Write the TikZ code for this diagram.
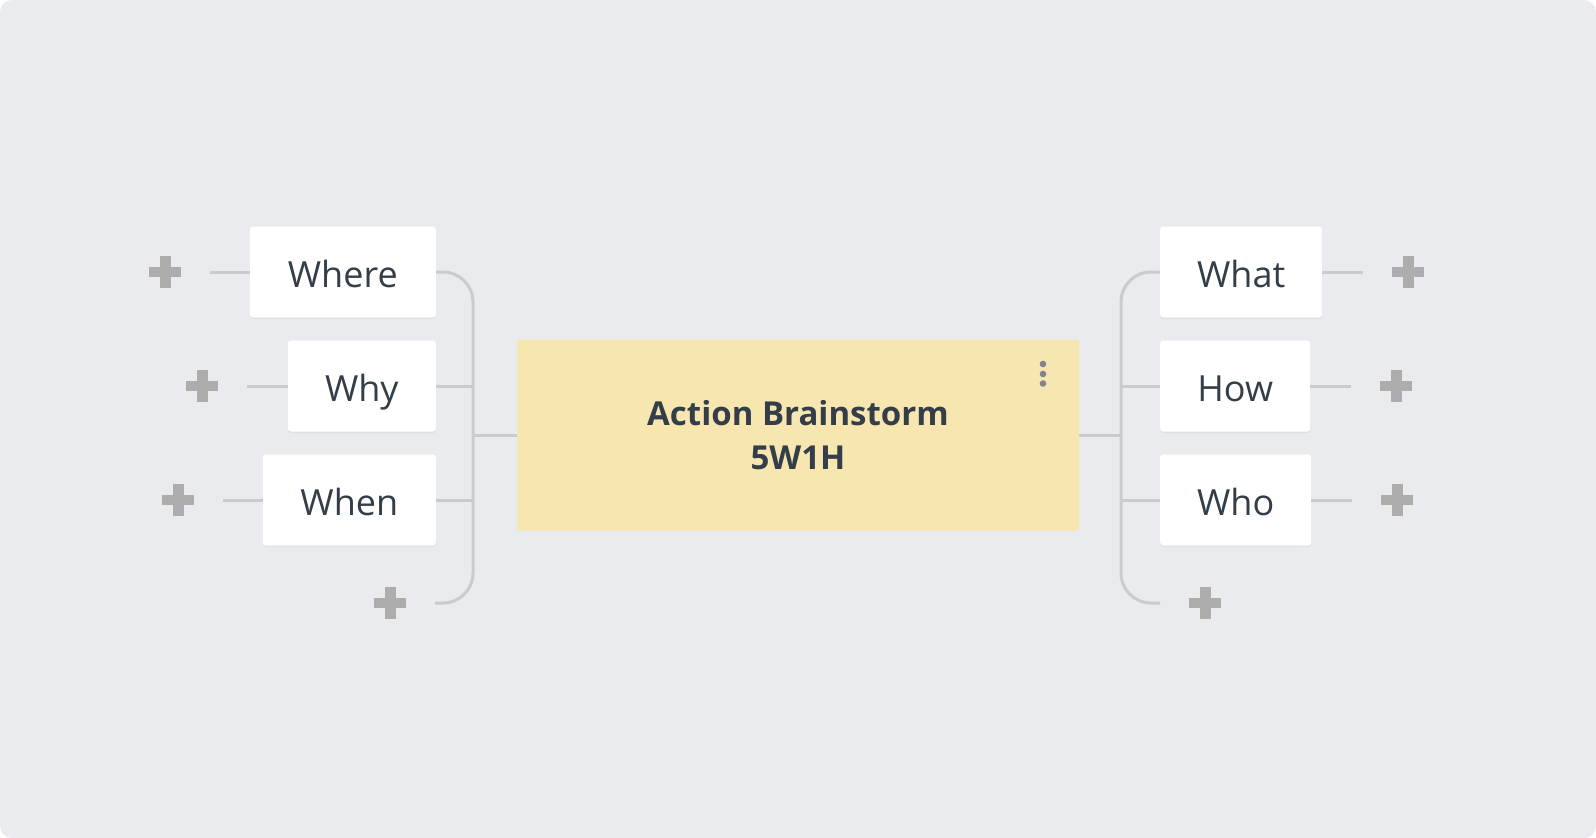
\documentclass[tikz,border=0pt]{standalone}
\usepackage{fontspec}
\setmainfont{Open Sans}
\usetikzlibrary{shadows}
\definecolor{bg}{HTML}{E9EBEE}
\definecolor{txt}{HTML}{333E48}
\definecolor{cfill}{HTML}{F8E6B1}
\definecolor{conn}{HTML}{C9CBCE}
\definecolor{plusc}{HTML}{ADADAD}
\definecolor{dotc}{HTML}{7F868D}
\begin{document}
\begin{tikzpicture}[x=1pt,y=-1pt,
  leaf/.style={fill=white, rounded corners=3pt, minimum height=91pt, inner sep=0pt,
    text=txt, font=\fontsize{36}{40}\selectfont, text height=30pt, text depth=0pt,
    drop shadow={shadow xshift=0pt,shadow yshift=-1.5pt,opacity=0.10}},
  lleaf/.style={leaf, anchor=east},
  rleaf/.style={leaf, anchor=west},
  connline/.style={draw=conn, line width=3pt},
  plusnode/.style={minimum width=32pt, minimum height=32pt, inner sep=0pt, outer xsep=29pt,
    path picture={
      \fill[plusc] ([xshift=-16pt,yshift=-5pt]path picture bounding box.center) rectangle ([xshift=16pt,yshift=5pt]path picture bounding box.center);
      \fill[plusc] ([xshift=-5.5pt,yshift=-16pt]path picture bounding box.center) rectangle ([xshift=5.5pt,yshift=16pt]path picture bounding box.center);}},
  rootbox/.style={fill=cfill, rounded corners=2pt, minimum width=562pt, minimum height=191pt,
    inner sep=0pt, align=center, text=txt, font=\bfseries\fontsize{33}{44}\selectfont}
]
\useasboundingbox (0,0) rectangle (1596,838);
\fill[white] (0,0) rectangle (1596,838);
\fill[bg, rounded corners=12pt] (0,0) rectangle (1596,838);

% central node
\node[rootbox] (root) at (798,435) {\raisebox{-2pt}{Action Brainstorm}\\\raisebox{-2pt}{5W1H}};
\fill[dotc] (1043,364) circle (3.3pt);
\fill[dotc] (1043,374) circle (3.3pt);
\fill[dotc] (1043,383.5) circle (3.3pt);

% left leaves
\node[lleaf, minimum width=186pt] (where) at (436,272) {Where};
\node[lleaf, minimum width=148pt] (why) at (436,386) {Why};
\node[lleaf, minimum width=173pt] (when) at (436,500) {When};
% right leaves
\node[rleaf, minimum width=162pt] (what) at (1160,272) {What};
\node[rleaf, minimum width=150pt] (how) at (1160,386) {How};
\node[rleaf, minimum width=151pt] (who) at (1160,500) {Who};

% plus buttons
\node[plusnode] (pwhere) at (165,272) {};
\node[plusnode] (pwhy) at (202,386) {};
\node[plusnode] (pwhen) at (178,500) {};
\node[plusnode] (pleft) at (390,603) {};
\node[plusnode] (pwhat) at (1408,272) {};
\node[plusnode] (phow) at (1396,386) {};
\node[plusnode] (pwho) at (1397,500) {};
\node[plusnode] (pright) at (1205,603) {};

% junctions
\coordinate (lj) at (473,435);
\coordinate (rj) at (1121,435);

% brackets
\draw[connline, rounded corners=30pt] (where.east) -| (lj) |- (pleft.east);
\draw[connline, rounded corners=30pt] (what.west) -| (rj) |- (pright.west);
\draw[connline] (why.east) -- (why.east -| lj);
\draw[connline] (when.east) -- (when.east -| lj);
\draw[connline] (root.west) -- (lj);
\draw[connline] (how.west) -- (how.west -| rj);
\draw[connline] (who.west) -- (who.west -| rj);
\draw[connline] (root.east) -- (rj);

% plus connectors
\draw[connline] (pwhere.east) -- (where.west);
\draw[connline] (pwhy.east) -- (why.west);
\draw[connline] (pwhen.east) -- (when.west);
\draw[connline] (what.east) -- (pwhat.west);
\draw[connline] (how.east) -- (phow.west);
\draw[connline] (who.east) -- (pwho.west);
\end{tikzpicture}
\end{document}
